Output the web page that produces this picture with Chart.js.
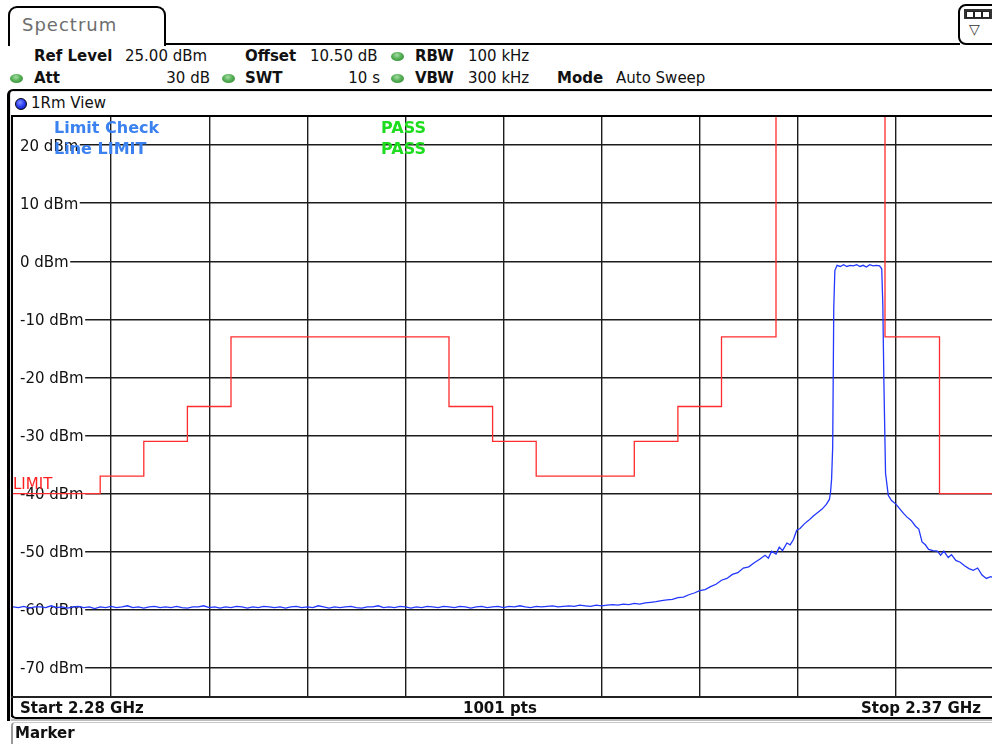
<!DOCTYPE html>
<html>
<head>
<meta charset="utf-8">
<script src="https://cdn.jsdelivr.net/npm/chart.js@4.4.1/dist/chart.umd.min.js"></script>
<style>
html, body { margin: 0; padding: 0; background: #fff; overflow: hidden; width: 992px; height: 744px; }
body { position: relative; font-family: "DejaVu Sans", sans-serif; font-size: 15px; color: #111; }
.t { position: absolute; white-space: nowrap; line-height: 15px; }
.b { font-weight: bold; }
.r { text-align: right; }
.ln { position: absolute; background: #000; }
.dot { position: absolute; width: 13px; height: 9px; border-radius: 50%;
       background: radial-gradient(ellipse at 45% 35%, #a6dca6 0%, #55b055 45%, #2f7f2f 100%); }
.sq { position: absolute; top: 11px; width: 6px; height: 5px; border: 1px solid #222; background: #fff; }
#plot { position: absolute; left: 13px; top: 116px; }
</style>
</head>
<body>

<!-- tab + header -->
<div style="position:absolute;left:8px;top:6px;width:154px;height:38px;border:2px solid #000;border-bottom:none;border-radius:9px 9px 0 0;background:#fff"></div>
<div class="t" style="left:22px;top:16px;font-size:18px;line-height:18px;color:#6e6e6e;letter-spacing:1px">Spectrum</div>
<div class="ln" style="left:164px;top:43px;width:796px;height:2px"></div>
<div style="position:absolute;left:958px;top:4px;width:40px;height:37px;border:2px solid #000;border-radius:8px;background:#fff"></div>
<div style="position:absolute;left:964px;top:9px;width:30px;height:10px;background:#333"></div>
<div class="sq" style="left:966px;top:11px"></div>
<div class="sq" style="left:974px;top:11px"></div>
<div class="sq" style="left:982px;top:11px"></div>
<div class="t" style="left:969px;top:22px;font-size:14px;color:#333">▽</div>

<div class="t b" style="left:34px;top:49px">Ref Level</div>
<div class="t" style="left:125px;top:49px">25.00 dBm</div>
<div class="t b" style="left:245px;top:49px">Offset</div>
<div class="t" style="left:310px;top:49px">10.50 dB</div>
<div class="dot" style="left:391px;top:52px"></div>
<div class="t b" style="left:415px;top:49px">RBW</div>
<div class="t" style="left:468px;top:49px">100 kHz</div>

<div class="dot" style="left:10px;top:74px"></div>
<div class="t b" style="left:34px;top:71px">Att</div>
<div class="t r" style="left:110px;width:100px;top:71px">30 dB</div>
<div class="dot" style="left:222px;top:74px"></div>
<div class="t b" style="left:245px;top:71px">SWT</div>
<div class="t r" style="left:280px;width:100px;top:71px">10 s</div>
<div class="dot" style="left:391px;top:74px"></div>
<div class="t b" style="left:415px;top:71px">VBW</div>
<div class="t" style="left:468px;top:71px">300 kHz</div>
<div class="t b" style="left:557px;top:71px">Mode</div>
<div class="t" style="left:616px;top:71px">Auto Sweep</div>

<!-- window frame -->
<div style="position:absolute;left:7px;top:89px;width:990px;height:630px;border-left:3px solid #000;border-top:2px solid #000;border-top-left-radius:6px;background:#e6e6e6"></div>
<div style="position:absolute;left:11px;top:92px;width:990px;height:625px;background:#fff"></div>
<div style="position:absolute;left:15px;top:98px;width:10px;height:10px;border-radius:50%;border:1px solid #001;background:radial-gradient(circle at 40% 35%, #7f8fff 0%, #2a3cf0 50%, #0a14a0 100%)"></div>
<div class="t" style="left:31px;top:96px">1Rm View</div>

<canvas id="plot" width="981" height="581"></canvas>

<div class="ln" style="left:11px;top:115px;width:990px;height:2px"></div>
<div class="ln" style="left:11px;top:115px;width:2px;height:602px"></div>
<div class="ln" style="left:11px;top:696px;width:990px;height:2px;background:#222"></div>
<div style="position:absolute;left:11px;top:698px;width:990px;height:19px;border-left:2px solid #000;border-bottom:2px solid #000;border-bottom-left-radius:5px;background:#fff"></div>
<div class="ln" style="left:11px;top:719px;width:990px;height:2px;background:#bdbdbd"></div>
<div class="t b" style="left:20px;top:701px">Start 2.28 GHz</div>
<div class="t b" style="left:463px;top:701px">1001 pts</div>
<div class="t b r" style="left:781px;width:200px;top:701px">Stop 2.37 GHz</div>

<div style="position:absolute;left:11px;top:722px;width:990px;height:30px;border-left:2px solid #9a9a9a;border-top:1px solid #c8c8c8;border-top-left-radius:4px;background:#fff"></div>
<div class="t b" style="left:15px;top:726px">Marker</div>

<!-- limit check texts -->
<div class="t b" style="left:54px;top:120px;font-size:16px;line-height:16px;color:#3b82f0">Limit Check</div>
<div class="t b" style="left:54px;top:141px;font-size:16px;line-height:16px;color:#3b82f0">Line LIMIT</div>
<div class="t b" style="left:381px;top:120px;font-size:16px;line-height:16px;color:#1edc1e">PASS</div>
<div class="t b" style="left:381px;top:141px;font-size:16px;line-height:16px;color:#1edc1e">PASS</div>
<div class="t" style="left:13px;top:477px;color:#ff2020">LIMIT</div>

<script>
// sweep 2.28 - 2.37 GHz, values in MHz / dBm
const startMHz = 2280;
const stopMHz = 2370;
const refLevel = 25;
const bottomLevel = -75;

const gridFreq = [2289, 2298, 2307, 2316, 2325, 2334, 2343, 2352, 2361];
const gridLevel = [20, 10, 0, -10, -20, -30, -40, -50, -60, -70];
const levelLabels = ['20 dBm', '10 dBm', '0 dBm', '-10 dBm', '-20 dBm', '-30 dBm', '-40 dBm', '-50 dBm', '-60 dBm', '-70 dBm'];

// limit line "LIMIT"
const limitFreq = [2280, 2288, 2288, 2292, 2292, 2296, 2296, 2300, 2300, 2320, 2320, 2324, 2324, 2328, 2328,
                   2337, 2337, 2341, 2341, 2345, 2345, 2350, 2350, 2360, 2360, 2365, 2365, 2370];
const limitLevel = [-40, -40, -37, -37, -31, -31, -25, -25, -13, -13, -25, -25, -31, -31, -37,
                    -37, -31, -31, -25, -25, -13, -13, 40, 40, -13, -13, -40, -40];

// trace 1 (Rm)
const traceFreq = [
  2280, 2280.5, 2281, 2281.5, 2282, 2282.5, 2283, 2283.5, 2284, 2284.5,
  2285, 2285.5, 2286, 2286.5, 2287, 2287.5, 2288, 2288.5, 2289, 2289.5,
  2290, 2290.5, 2291, 2291.5, 2292, 2292.5, 2293, 2293.5, 2294, 2294.5,
  2295, 2295.5, 2296, 2296.5, 2297, 2297.5, 2298, 2298.5, 2299, 2299.5,
  2300, 2300.5, 2301, 2301.5, 2302, 2302.5, 2303, 2303.5, 2304, 2304.5,
  2305, 2305.5, 2306, 2306.5, 2307, 2307.5, 2308, 2308.5, 2309, 2309.5,
  2310, 2310.5, 2311, 2311.5, 2312, 2312.5, 2313, 2313.5, 2314, 2314.5,
  2315, 2315.5, 2316, 2316.5, 2317, 2317.5, 2318, 2318.5, 2319, 2319.5,
  2320, 2320.5, 2321, 2321.5, 2322, 2322.5, 2323, 2323.5, 2324, 2324.5,
  2325, 2325.5, 2326, 2326.5, 2327, 2327.5, 2328, 2328.5, 2329, 2329.5,
  2330, 2330.5, 2331, 2331.5, 2332, 2332.5, 2333, 2333.5, 2334,
  2334.5, 2335, 2335.5, 2336, 2336.5, 2337, 2337.5, 2338, 2338.5, 2339,
  2339.5, 2340, 2340.5, 2341, 2341.5, 2342, 2342.5, 2343, 2343.5, 2344,
  2344.5, 2345, 2345.5, 2346, 2346.5, 2347, 2347.5, 2348, 2348.5, 2349,
  2349.3, 2349.6, 2350, 2350.3, 2350.6, 2351, 2351.3, 2351.6, 2351.9, 2352.2,
  2352.6, 2353, 2353.4, 2353.8, 2354.2, 2354.6, 2354.9, 2355.0, 2355.1, 2355.2,
  2355.3, 2355.4, 2355.6, 2355.9, 2356.2, 2356.5, 2356.8, 2357.1, 2357.4, 2357.7,
  2358.0, 2358.3, 2358.6, 2358.9, 2359.2, 2359.5, 2359.7, 2359.8, 2359.9, 2360.05,
  2360.3, 2360.6, 2361.0, 2361.3, 2361.7, 2362.0, 2362.4, 2362.8, 2363.1, 2363.4,
  2363.7, 2364.0, 2364.4, 2364.8, 2365.1, 2365.4, 2365.8, 2366.1, 2366.5, 2366.9,
  2367.3, 2367.7, 2368.1, 2368.5, 2368.9, 2369.3, 2369.7, 2370
];
const traceLevel = [
  -59.5, -59.6, -59.4, -59.7, -59.5, -59.5, -59.6, -59.3, -59.6, -59.5,
  -59.7, -59.5, -59.4, -59.6, -59.5, -59.8, -59.5, -59.6, -59.4, -59.6,
  -59.5, -59.3, -59.6, -59.5, -59.7, -59.5, -59.4, -59.6, -59.5, -59.6,
  -59.4, -59.6, -59.7, -59.5, -59.5, -59.3, -59.6, -59.5, -59.7, -59.5,
  -59.6, -59.4, -59.5, -59.7, -59.5, -59.6, -59.4, -59.5, -59.6, -59.5,
  -59.7, -59.5, -59.4, -59.6, -59.5, -59.6, -59.3, -59.5, -59.7, -59.5,
  -59.6, -59.5, -59.4, -59.6, -59.7, -59.5, -59.5, -59.3, -59.6, -59.5,
  -59.6, -59.4, -59.5, -59.7, -59.5, -59.6, -59.4, -59.5, -59.6, -59.4,
  -59.5, -59.6, -59.4, -59.5, -59.7, -59.5, -59.4, -59.6, -59.5, -59.4,
  -59.6, -59.4, -59.5, -59.3, -59.5, -59.6, -59.4, -59.5, -59.4, -59.3,
  -59.5, -59.4, -59.3, -59.4, -59.2, -59.3, -59.4, -59.2, -59.3,
  -59.2, -59.1, -59.2, -59.0, -59.1, -58.9, -59.0, -58.8, -58.7, -58.6,
  -58.4, -58.3, -58.2, -57.9, -57.8, -57.4, -57.1, -56.7, -56.5, -56.0,
  -55.6, -54.9, -54.6, -53.9, -53.6, -52.8, -52.6, -51.9, -51.3, -50.6,
  -51.1, -49.9, -50.4, -49.2, -49.8, -48.5, -48.8, -47.9, -46.3, -46.0,
  -45.2, -44.6, -43.9, -43.3, -42.7, -41.9, -41.0, -39.8, -37.5, -32.0,
  -8.0, -1.6, -0.7, -0.9, -0.6, -0.9, -0.7, -0.8, -0.6, -0.9,
  -0.7, -1.0, -0.6, -0.8, -0.7, -0.8, -1.3, -7.5, -21.0, -36.5,
  -40.3, -41.2, -41.8, -42.5, -43.4, -44.0, -44.6, -45.6, -46.1, -48.3,
  -48.8, -49.6, -49.8, -49.9, -50.6, -49.9, -51.0, -50.5, -51.5, -51.8,
  -52.4, -52.9, -53.2, -52.8, -54.0, -54.6, -54.3, -54.5
];

// level labels sit inside the diagram, the grid line starts after the text
const levelLabelPlugin = {
  id: 'levelLabels',
  beforeDatasetsDraw(chart) {
    const { ctx, chartArea, scales } = chart;
    ctx.save();
    ctx.font = '15px "DejaVu Sans"';
    ctx.textBaseline = 'alphabetic';
    gridLevel.forEach((v, i) => {
      const py = scales.y.getPixelForValue(v);
      const w = ctx.measureText(levelLabels[i]).width;
      ctx.fillStyle = '#fff';
      ctx.fillRect(chartArea.left, py - 2, 7 + w + 1.5, 4);
      ctx.fillStyle = '#111';
      ctx.fillText(levelLabels[i], chartArea.left + 7, py + 5.5);
    });
    ctx.restore();
  }
};

const ctx = document.getElementById('plot').getContext('2d');
const spectrumChart = new Chart(ctx, {
  type: 'line',
  data: {
    datasets: [
      {
        label: 'LIMIT',
        data: limitFreq.map((f, i) => ({ x: f, y: limitLevel[i] })),
        borderColor: 'rgb(255, 45, 45)',
        borderWidth: 1.3,
        pointRadius: 0,
        tension: 0
      },
      {
        label: '1Rm',
        data: traceFreq.map((f, i) => ({ x: f, y: traceLevel[i] })),
        borderColor: 'rgb(35, 55, 255)',
        borderWidth: 1.3,
        pointRadius: 0,
        tension: 0
      }
    ]
  },
  options: {
    responsive: false,
    animation: false,
    devicePixelRatio: 1,
    layout: { padding: 0 },
    plugins: {
      legend: { display: false },
      tooltip: { enabled: false },
      title: { display: false }
    },
    scales: {
      x: {
        type: 'linear',
        min: startMHz,
        max: stopMHz,
        afterBuildTicks: s => { s.ticks = gridFreq.map(v => ({ value: v })); },
        ticks: { display: false },
        grid: { color: '#1c1c1c', lineWidth: 1.4, drawTicks: false },
        border: { display: false }
      },
      y: {
        type: 'linear',
        min: bottomLevel,
        max: refLevel,
        afterBuildTicks: s => { s.ticks = gridLevel.map(v => ({ value: v })); },
        ticks: { display: false },
        grid: { color: '#1c1c1c', lineWidth: 1.4, drawTicks: false },
        border: { display: false }
      }
    }
  },
  plugins: [levelLabelPlugin]
});
</script>
</body>
</html>
